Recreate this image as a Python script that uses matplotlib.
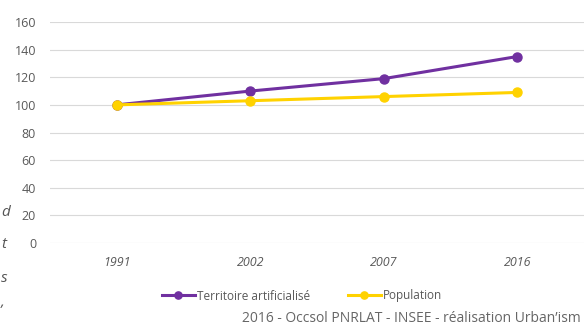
import matplotlib
matplotlib.use('Agg')
import matplotlib.pyplot as plt

# Données (indice base 100 en 1991)
annees = ['1991', '2002', '2007', '2016']
territoire_artificialise = [100, 110, 119, 135]
population = [100, 103, 106, 109]
yticks = [0, 20, 40, 60, 80, 100, 120, 140, 160]

VIOLET = '#7030A0'
JAUNE = '#FFD200'
GRIS_TXT = '#595959'

plt.rcParams['font.family'] = ['Open Sans', 'DejaVu Sans']

fig = plt.figure(figsize=(5.84, 3.25), dpi=100)
ax = fig.add_axes([50 / 584, 1 - 243 / 325, 1 - 50 / 584, (243 - 22) / 325])

x = list(range(len(annees)))
ax.plot(x, territoire_artificialise, color=VIOLET, lw=2.2, marker='o', ms=6.5,
        label='Territoire artificialisé', zorder=3)
ax.plot(x, population, color=JAUNE, lw=2.2, marker='o', ms=6.5,
        label='Population', zorder=3)

ax.set_xlim(-0.5, len(annees) - 0.5)
ax.set_ylim(0, 160)
ax.set_yticks(yticks)
ax.set_xticks(x)
ax.set_xticklabels(annees, fontstyle='italic')
ax.grid(axis='y', color='#d9d9d9', lw=0.8)
ax.set_axisbelow(True)
for s in ax.spines.values():
    s.set_visible(False)
ax.tick_params(axis='both', length=0, labelsize=9, colors=GRIS_TXT)
ax.tick_params(axis='y', pad=10)
ax.tick_params(axis='x', pad=9)

leg = fig.legend(loc='center', bbox_to_anchor=(302 / 584, 1 - 296 / 325), ncol=2,
                 frameon=False, fontsize=8.5, handlelength=2.8, columnspacing=3.2,
                 handletextpad=0.2, markerscale=0.8)
for t in leg.get_texts():
    t.set_color(GRIS_TXT)

fig.text(581 / 584, 1 - 318 / 325, "2016 - Occsol PNRLAT - INSEE - réalisation Urban’ism",
         ha='right', va='center', fontsize=10, color='#666666')

# fragments de texte coupés sur le bord gauche
for lettre, yy in [('d', 212), ('t', 244), ('s', 279), (',', 302)]:
    fig.text(1 / 584, 1 - yy / 325, lettre, ha='left', va='center', fontsize=11,
             fontstyle='italic', color='#555555')

fig.savefig('out.png', dpi=100)
